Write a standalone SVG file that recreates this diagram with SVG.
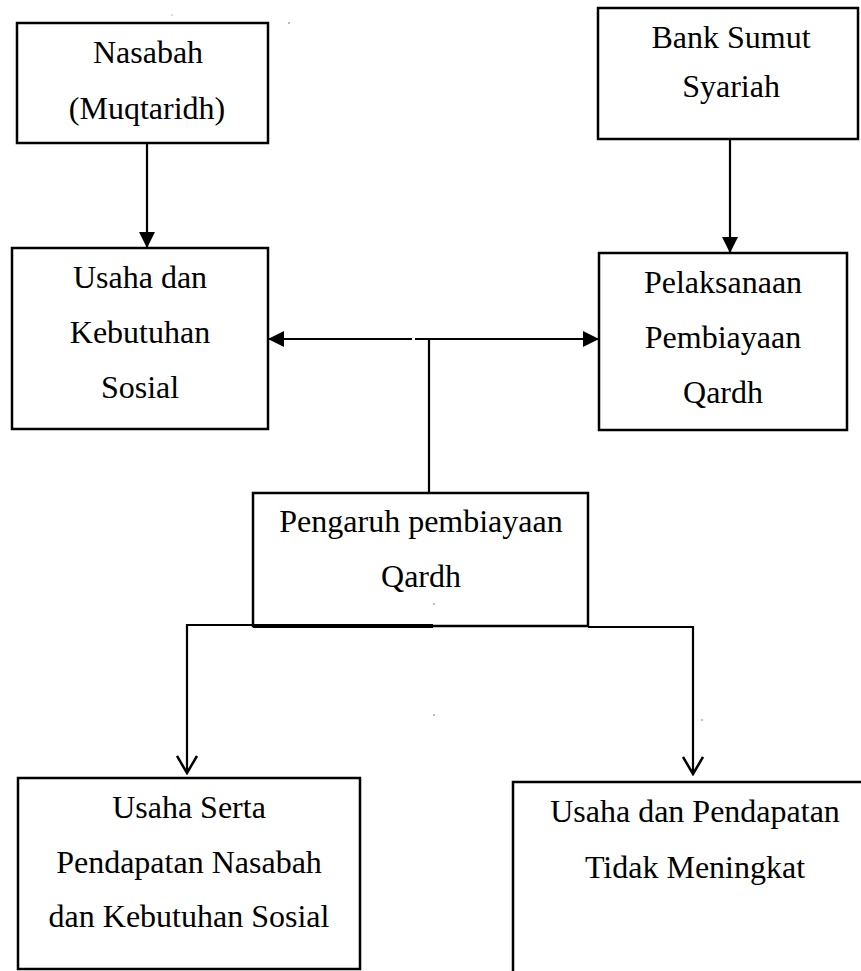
<svg xmlns="http://www.w3.org/2000/svg" width="861" height="971" viewBox="0 0 861 971">
<style>
  .box { fill: #fff; stroke: #000; stroke-width: 2.5; }
  .lbl { font-family: "Liberation Serif", "Times New Roman", serif; font-size: 32px; fill: #000; text-anchor: middle; }
  .conn { fill: none; stroke: #000; stroke-width: 2.2; }
  .speck { fill: #666; }
</style>
<defs>
  <marker id="solid" viewBox="0 0 16 16" refX="16" refY="8" markerWidth="16" markerHeight="16" markerUnits="userSpaceOnUse" orient="auto">
    <path d="M0,0 L16,8 L0,16 Z" fill="#000"/>
  </marker>
  <marker id="open" viewBox="0 0 20 22" refX="18" refY="11" markerWidth="20" markerHeight="22" markerUnits="userSpaceOnUse" orient="auto">
    <path d="M1,1 L18,11 L1,21" fill="none" stroke="#000" stroke-width="2.5"/>
  </marker>
</defs>
<rect width="861" height="971" fill="#fff"/>

<g id="connectors">
  <line class="conn" x1="147" y1="143" x2="147" y2="248" marker-end="url(#solid)"/>
  <line class="conn" x1="730" y1="139" x2="730" y2="253" marker-end="url(#solid)"/>
  <line class="conn" x1="412" y1="339" x2="268" y2="339" marker-end="url(#solid)"/>
  <line class="conn" x1="415" y1="339" x2="599" y2="339" marker-end="url(#solid)"/>
  <line class="conn" x1="429" y1="339" x2="429" y2="493"/>
  <path class="conn" d="M253,625 H187 V773" marker-end="url(#open)"/>
  <path class="conn" d="M588,627 H693 V774" marker-end="url(#open)"/>
</g>

<g id="nasabah">
  <rect class="box" x="17" y="23" width="251" height="120"/>
  <text class="lbl" x="148" y="63">Nasabah</text>
  <text class="lbl" x="147" y="119">(Muqtaridh)</text>
</g>

<g id="bank">
  <rect class="box" x="598" y="8" width="260" height="131"/>
  <text class="lbl" x="731" y="48">Bank Sumut</text>
  <text class="lbl" x="731" y="97">Syariah</text>
</g>

<g id="usaha-kebutuhan">
  <rect class="box" x="12" y="248" width="256" height="181"/>
  <text class="lbl" x="140" y="288">Usaha dan</text>
  <text class="lbl" x="140" y="343">Kebutuhan</text>
  <text class="lbl" x="140" y="398">Sosial</text>
</g>

<g id="pelaksanaan">
  <rect class="box" x="599" y="253" width="248" height="177"/>
  <text class="lbl" x="723" y="293">Pelaksanaan</text>
  <text class="lbl" x="723" y="348">Pembiayaan</text>
  <text class="lbl" x="723" y="403">Qardh</text>
</g>

<g id="pengaruh">
  <rect class="box" x="253" y="493" width="335" height="133"/>
  <line x1="253" y1="626" x2="433" y2="626" stroke="#000" stroke-width="4"/>
  <text class="lbl" x="421" y="532">Pengaruh pembiayaan</text>
  <text class="lbl" x="421" y="587">Qardh</text>
</g>

<g id="usaha-serta">
  <rect class="box" x="18" y="778" width="342" height="191"/>
  <text class="lbl" x="189" y="818">Usaha Serta</text>
  <text class="lbl" x="189" y="873">Pendapatan Nasabah</text>
  <text class="lbl" x="189" y="927">dan Kebutuhan Sosial</text>
</g>

<g id="tidak-meningkat">
  <rect class="box" x="513" y="782" width="400" height="260"/>
  <text class="lbl" x="695" y="822">Usaha dan Pendapatan</text>
  <text class="lbl" x="695" y="878">Tidak Meningkat</text>
</g>

<g id="specks">
  <circle class="speck" cx="172" cy="15" r="0.6"/>
  <circle class="speck" cx="289" cy="23" r="0.8"/>
  <circle class="speck" cx="434" cy="604" r="0.8"/>
  <circle class="speck" cx="434" cy="715" r="0.8"/>
  <circle class="speck" cx="702" cy="720" r="0.7"/>
</g>
</svg>
